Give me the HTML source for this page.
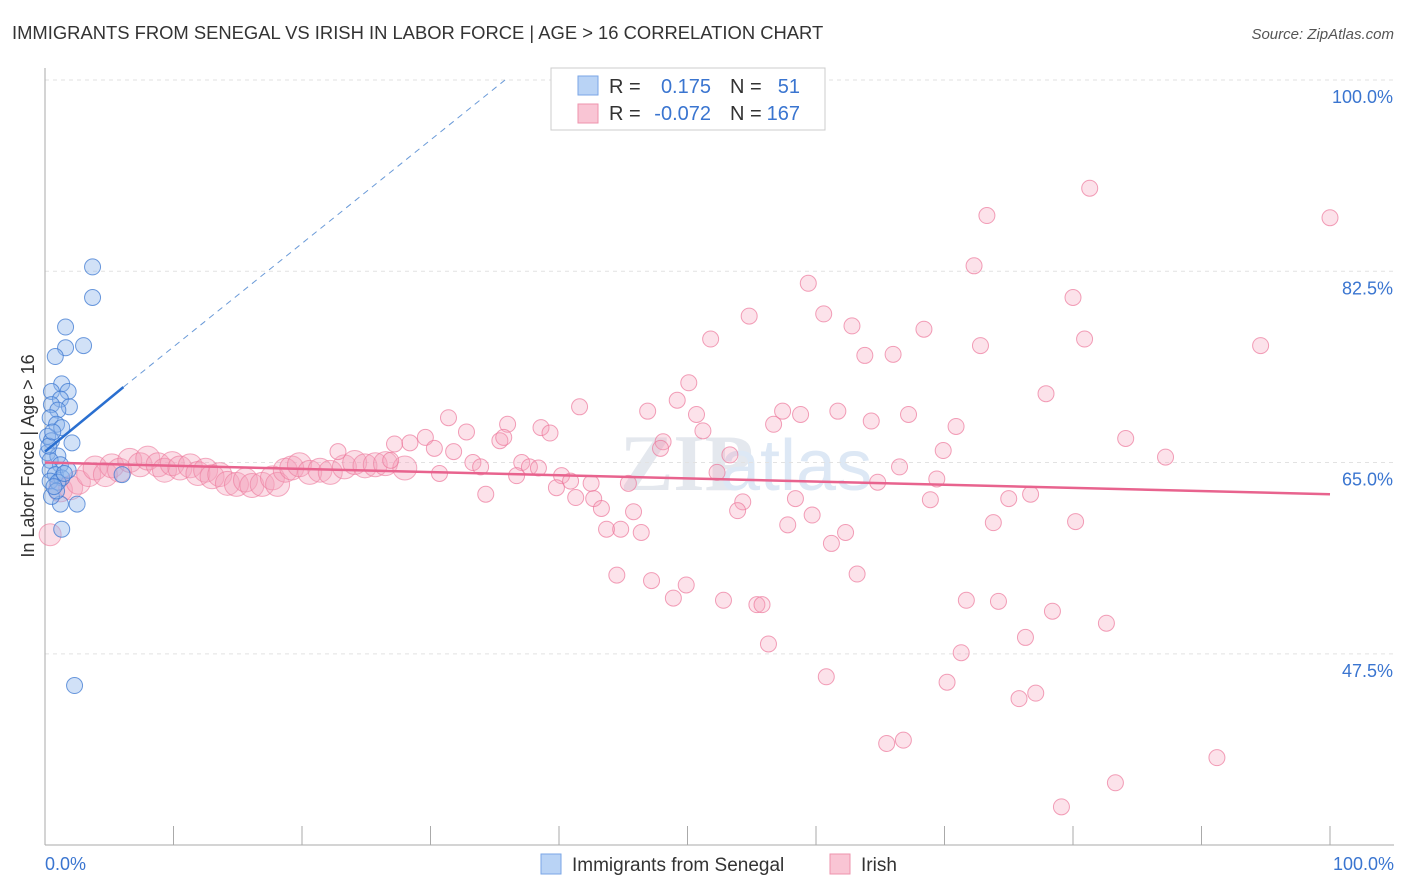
<!DOCTYPE html>
<html><head><meta charset="utf-8">
<style>
body{margin:0;background:#fff;font-family:"Liberation Sans",sans-serif;}
#wrap{position:relative;width:1406px;height:892px;overflow:hidden;}
</style></head>
<body>
<div id="wrap">
<svg id="chart" width="1406" height="892">
<text x="12" y="39" font-size="18.4" fill="#333">IMMIGRANTS FROM SENEGAL VS IRISH IN LABOR FORCE | AGE &gt; 16 CORRELATION CHART</text>
<text x="1394" y="39" font-size="15" fill="#555" font-style="italic" text-anchor="end">Source: ZipAtlas.com</text>
<text x="620" y="490" font-size="80" fill="#e4e8ee" font-family="Liberation Serif" font-weight="bold">ZIP</text>
<text x="720" y="490" font-size="72" fill="#dde8f5">atlas</text>
<g id="grid"></g>
<line x1="45" y1="68" x2="45" y2="845" stroke="#aaa"/>
<line x1="45" y1="845" x2="1394" y2="845" stroke="#aaa"/>
<g id="xticks"></g>
<text transform="translate(34,456) rotate(-90)" font-size="18" fill="#333" text-anchor="middle">In Labor Force | Age &gt; 16</text>
<text x="45" y="870" font-size="18" fill="#3a75d0">0.0%</text>
<text x="1394" y="870" font-size="18" fill="#3a75d0" text-anchor="end">100.0%</text>
<g id="pink"></g>
<g id="blue"></g>
<g id="lines"></g>
<g>
<rect x="551" y="68" width="274" height="62" fill="#fff" stroke="#ccc"/>
<rect x="578" y="76" width="20" height="19" fill="#b9d3f5" stroke="#7aa6e6"/>
<rect x="578" y="104" width="20" height="19" fill="#f9c5d4" stroke="#ee93ad"/>
<text x="609" y="93" font-size="20" fill="#333">R = </text>
<text x="711" y="93" font-size="20" fill="#3a75d0" text-anchor="end">0.175</text>
<text x="730" y="93" font-size="20" fill="#333">N = </text>
<text x="800" y="93" font-size="20" fill="#3a75d0" text-anchor="end">51</text>
<text x="609" y="120" font-size="20" fill="#333">R = </text>
<text x="711" y="120" font-size="20" fill="#3a75d0" text-anchor="end">-0.072</text>
<text x="730" y="120" font-size="20" fill="#333">N = </text>
<text x="800" y="120" font-size="20" fill="#3a75d0" text-anchor="end">167</text>
</g>
<g>
<rect x="541" y="854" width="20" height="20" fill="#b9d3f5" stroke="#7aa6e6"/>
<text x="572" y="871" font-size="19" fill="#333">Immigrants from Senegal</text>
<rect x="830" y="854" width="20" height="20" fill="#f9c5d4" stroke="#ee93ad"/>
<text x="861" y="871" font-size="19" fill="#333">Irish</text>
</g>
</svg>
</div>
<script>
const yTicks=[100,82.5,65,47.5];
const yTickLabels=["100.0%","82.5%","65.0%","47.5%"];
const xTickVals=[0,10,20,30,40,50,60,70,80,90,100];
const blueX=[3.7,3.7,1.6,3.0,1.6,0.8,1.3,0.5,1.8,1.2,0.5,1.9,1.0,0.4,0.9,1.3,0.2,2.1,0.5,0.2,1.0,0.4,1.2,0.4,0.8,1.3,0.4,1.0,2.5,1.2,1.3,2.3,6.0,1.8,0.5,0.9,0.3,0.6,1.5,0.7];
const blueY=[82.9,80.1,77.4,75.7,75.5,74.7,72.2,71.5,71.5,70.8,70.3,70.1,69.8,69.1,68.5,68.2,67.4,66.8,67.0,65.9,65.6,65.2,64.8,64.3,63.9,63.6,63.3,63.2,61.2,61.2,58.9,44.6,63.9,64.3,61.9,62.4,66.5,67.8,64.0,62.8];
const pinkX=[81.3,100,73.3,72.3,59.4,80.0,54.8,60.6,62.8,68.4,51.8,72.8,80.9,94.6,63.8,66.0,50.1,77.9,41.6,46.9,49.2,50.7,57.4,58.8,61.7,67.2,31.4,36.0,56.7,51.2,64.3,70.9,32.8,38.6,39.3,84.1,29.6,27.2,28.4,30.3,31.8,35.4,35.7,48.1,47.9,69.9,87.2,53.3,22.8,26.9,33.3,33.9,37.1,37.7,38.4,36.7,52.3,66.5,30.7,40.2,69.4,64.8,45.4,42.5,40.9,39.8,34.3,41.3,42.7,58.4,54.3,76.7,75.0,68.9,43.3,45.8,53.9,59.7,73.8,80.2,57.8,43.7,44.8,46.4,62.3,61.2,44.5,47.2,49.9,63.2,48.9,52.8,55.4,55.8,71.7,74.2,78.4,82.6,76.3,56.3,71.3,60.8,70.2,75.8,77.1,66.8,65.5,91.2,83.3,79.1];
const pinkY=[90.1,87.4,87.6,83.0,81.4,80.1,78.4,78.6,77.5,77.2,76.3,75.7,76.3,75.7,74.8,74.9,72.3,71.3,70.1,69.7,70.7,69.4,69.7,69.4,69.7,69.4,69.1,68.5,68.5,67.9,68.8,68.3,67.8,68.2,67.7,67.2,67.3,66.7,66.8,66.3,66.0,67.0,67.3,66.9,66.3,66.1,65.5,65.7,66.0,65.2,65.0,64.6,65.0,64.6,64.5,63.8,64.1,64.6,64.0,63.8,63.5,63.2,63.1,63.1,63.3,62.7,62.1,61.8,61.7,61.7,61.4,62.1,61.7,61.6,60.8,60.5,60.6,60.2,59.5,59.6,59.3,58.9,58.9,58.6,58.6,57.6,54.7,54.2,53.8,54.8,52.6,52.4,52.0,52.0,52.4,52.3,51.4,50.3,49.0,48.4,47.6,45.4,44.9,43.4,43.9,39.6,39.3,38.0,35.7,33.5];
const bandX=[0.4,1.2,2.0,2.6,3.4,3.9,4.7,5.2,5.8,6.6,7.4,8.0,8.8,9.3,9.9,10.5,11.3,11.9,12.5,13.0,13.6,14.2,14.9,15.6,16.1,16.9,17.7,18.1,18.7,19.2,19.8,20.6,21.4,22.2,23.3,24.1,24.9,25.7,26.5,28.0];
const bandY=[58.4,62.5,62.7,63.2,63.9,64.5,63.9,64.7,64.3,65.2,64.8,65.4,64.8,64.3,64.9,64.5,64.7,64.0,64.3,63.7,63.9,63.1,63.0,63.4,62.9,63.0,63.6,63.0,64.3,64.5,64.8,64.1,64.3,64.1,64.6,65.0,64.7,64.8,64.9,64.5];
const blueFitX=[0,6.1];const blueFitY=[66.0,71.9];
const blueDashX=[6.1,35.8];const blueDashY=[71.9,100];
const pinkFitX=[0,100];const pinkFitY=[65.0,62.1];

const sx=v=>45+v*12.85;
const sy=v=>80+(100-v)*10.93;
const NS="http://www.w3.org/2000/svg";
function mk(tag,attrs,parent){const e=document.createElementNS(NS,tag);for(const k in attrs)e.setAttribute(k,attrs[k]);document.getElementById(parent).appendChild(e);return e;}

yTicks.forEach((t,i)=>{
  const l=mk('line',{x1:45,x2:1394,y1:sy(t),y2:sy(t),stroke:'#e2e2e2','stroke-dasharray':'4,4'},'grid');
  
  
  const tx=mk('text',{x:1393,y:sy(t)+23,'font-size':18,fill:'#3a75d0','text-anchor':'end'},'grid');
  tx.textContent=yTickLabels[i];
  
  
});
xTickVals.forEach(v=>{
  const l=mk('line',{x1:sx(v),x2:sx(v),y1:826,y2:845,stroke:'#aaa'},'xticks');
  
  
});
bandX.forEach((x,i)=>{
  const c=mk('circle',{cx:sx(x),cy:sy(bandY[i]),r:i==0?11:12,fill:'rgba(244,160,185,0.35)',stroke:'rgba(236,120,155,0.6)','stroke-width':1},'pink');
  
  
});
pinkX.forEach((x,i)=>{
  const c=mk('circle',{cx:sx(x),cy:sy(pinkY[i]),r:8,fill:'rgba(244,160,185,0.3)',stroke:'rgba(236,120,155,0.7)','stroke-width':1},'pink');
  
  
});
blueX.forEach((x,i)=>{
  const c=mk('circle',{cx:sx(x),cy:sy(blueY[i]),r:8,fill:'rgba(140,180,235,0.4)',stroke:'rgba(60,120,210,0.75)','stroke-width':1},'blue');
  
  
});
let l1=mk('line',{x1:sx(blueDashX[0]),y1:sy(blueDashY[0]),x2:sx(blueDashX[1]),y2:sy(blueDashY[1]),stroke:'#6a9ad8','stroke-width':1,'stroke-dasharray':'6,5'},'lines');


let l2=mk('line',{x1:sx(blueFitX[0]),y1:sy(blueFitY[0]),x2:sx(blueFitX[1]),y2:sy(blueFitY[1]),stroke:'#2a6fd0','stroke-width':2.5},'lines');


let l3=mk('line',{x1:sx(pinkFitX[0]),y1:sy(pinkFitY[0]),x2:sx(pinkFitX[1]),y2:sy(pinkFitY[1]),stroke:'#e8638e','stroke-width':2.5},'lines');


</script>
</body></html>
